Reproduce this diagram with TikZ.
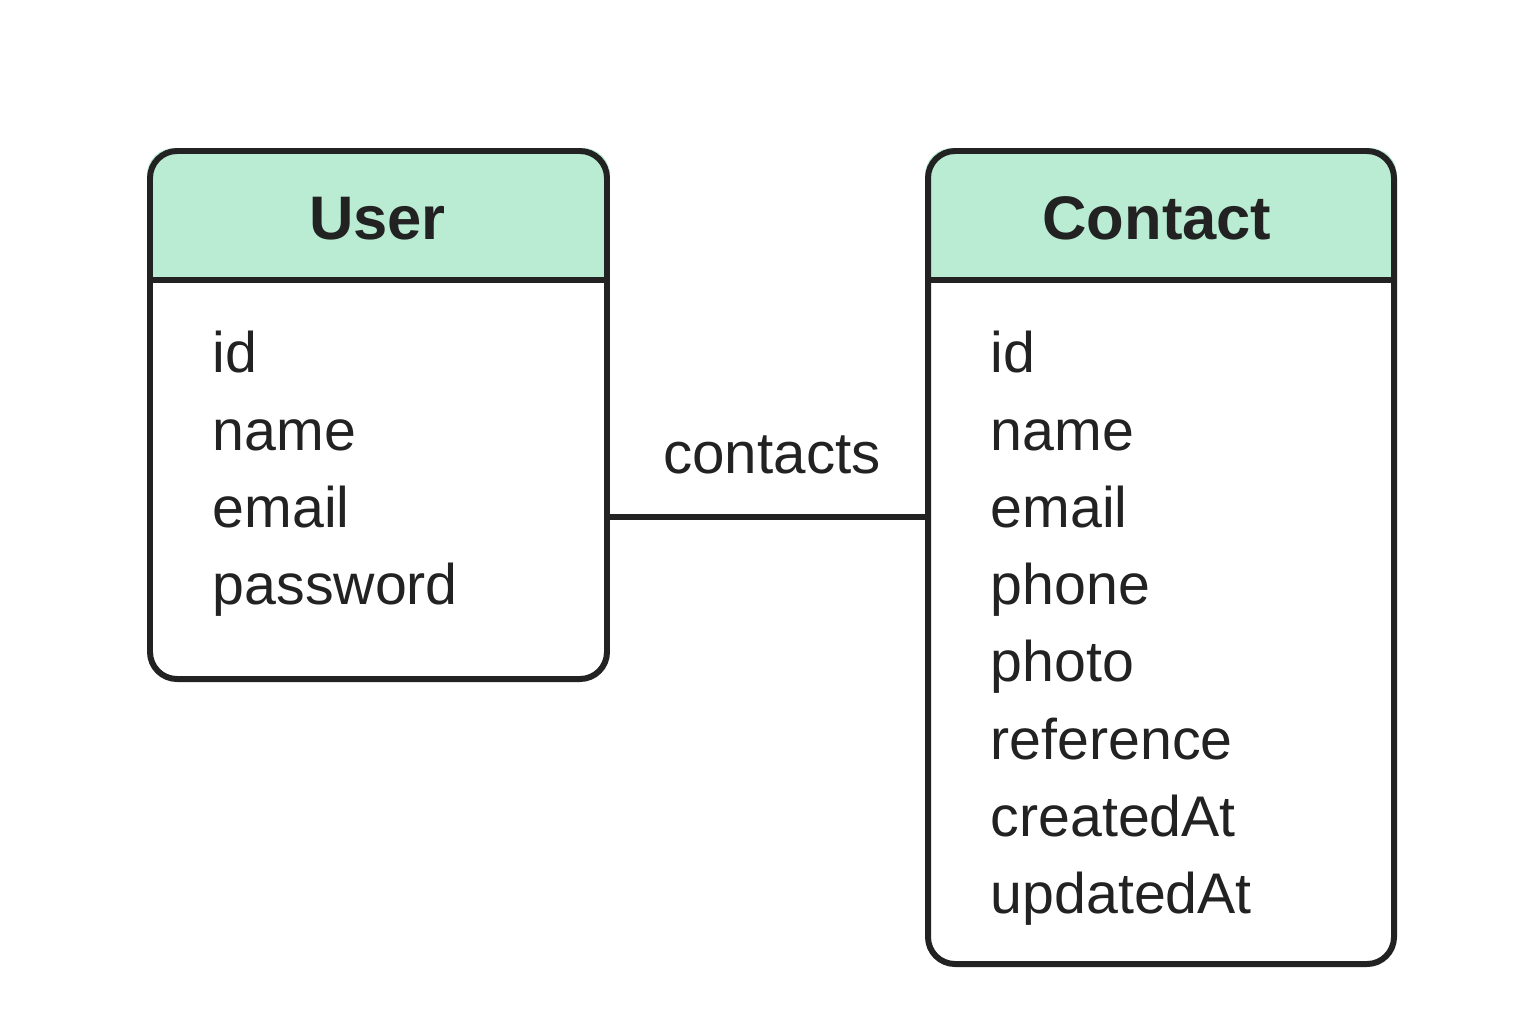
\documentclass[tikz,border=0pt]{standalone}
\usepackage{fontspec}
\setmainfont{Liberation Sans}
\usetikzlibrary{backgrounds}
\definecolor{hdr}{HTML}{BAEBD3}
\definecolor{ink}{HTML}{222222}
\begin{document}
\begin{tikzpicture}[
  box/.style={draw=ink, line width=1.7pt, rounded corners=0.27cm, inner sep=0pt},
  title/.style={font=\fontsize{17.5}{20}\selectfont\bfseries, text=ink, anchor=base},
  field/.style={font=\fontsize{16.3}{19}\selectfont, text=ink, anchor=base west, inner sep=0pt},
  rel/.style={font=\fontsize{16.6}{19}\selectfont, text=ink, anchor=base, inner sep=0pt},
  conn/.style={draw=ink, line width=1.7pt}
]
\useasboundingbox (0,0) rectangle (15.36,-10.24);
% boxes
\node[box, minimum width=4.57cm, minimum height=5.28cm] (user) at (3.785,-4.15) {};
\node[box, minimum width=4.66cm, minimum height=8.13cm] (contact) at (11.61,-5.575) {};
\coordinate (hline) at (0,-2.80);
\begin{scope}[on background layer]
  \fill[white] (0,0) rectangle (15.36,-10.24);
  \begin{scope}
    \clip[rounded corners=0.27cm] (user.south west) rectangle (user.north east);
    \fill[hdr] (user.north west) rectangle (user.east |- hline);
  \end{scope}
  \begin{scope}
    \clip[rounded corners=0.27cm] (contact.south west) rectangle (contact.north east);
    \fill[hdr] (contact.north west) rectangle (contact.east |- hline);
  \end{scope}
\end{scope}
\draw[conn] (user.west |- hline) -- (user.east |- hline);
\draw[conn] (contact.west |- hline) -- (contact.east |- hline);
% titles
\node[title] (ut) at (3.775,-2.39) {User};
\node[title] (ct) at (11.57,-2.39) {Contact};
% user fields
\node[field] (u1) at (2.12,-3.72) {id};
\node[field] (u2) at (2.12,-4.50) {name};
\node[field] (u3) at (2.12,-5.27) {email};
\node[field] (u4) at (2.12,-6.04) {password};
% contact fields
\node[field] (c1) at (9.90,-3.72) {id};
\node[field] (c2) at (9.90,-4.50) {name};
\node[field] (c3) at (9.90,-5.27) {email};
\node[field] (c4) at (9.90,-6.04) {phone};
\node[field] (c5) at (9.90,-6.81) {photo};
\node[field] (c6) at (9.90,-7.59) {reference};
\node[field] (c7) at (9.90,-8.36) {createdAt};
\node[field] (c8) at (9.90,-9.13) {updatedAt};
% relation
\coordinate (cy) at (0,-5.17);
\draw[conn] (user.east |- cy) -- (contact.west |- cy);
\node[rel] (rl) at (7.72,-4.73) {contacts};
\end{tikzpicture}
\end{document}
